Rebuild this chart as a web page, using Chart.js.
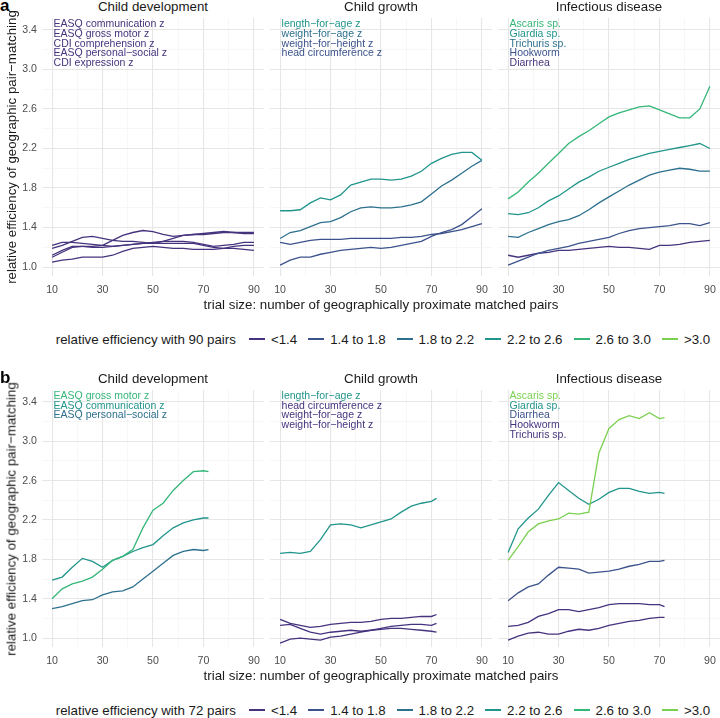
<!DOCTYPE html>
<html>
<head>
<meta charset="utf-8">
<script src="https://cdn.jsdelivr.net/npm/chart.js@4.4.0/dist/chart.umd.min.js"></script>
<style>
body { margin: 0; width: 720px; height: 718px; overflow: hidden; background: #fff; position: relative;
       font-family: "Liberation Sans", Arial, sans-serif; color: #1a1a1a; }
canvas { position: absolute; }
.strip { position: absolute; width: 222px; text-align: center; font-size: 13.3px; line-height: 16px; }
.tag { position: absolute; left: 0; font-weight: bold; font-size: 17px; line-height: 17px; color: #000; }
.ytitle { position: absolute; font-size: 13.3px; white-space: nowrap; transform: translate(-50%, -50%) rotate(-90deg); }
.xtitle { position: absolute; font-size: 13.3px; white-space: nowrap; transform: translate(-50%, -50%); }
.legend { position: absolute; left: 46px; width: 674px; height: 18px; display: flex; justify-content: center;
          align-items: center; font-size: 13.3px; white-space: nowrap; }
.key { display: inline-block; width: 16px; height: 1.5px; margin: 0 6px 0 11px; }
</style>
</head>
<body>
<script>
// x positions (trial size in pairs)
const PAIRS_90 = [10, 14, 18, 22, 26, 30, 34, 38, 42, 46, 50, 54, 58, 62, 66, 70, 74, 78, 82, 86, 90];
const PAIRS_72 = [10, 14, 18, 22, 26, 30, 34, 38, 42, 46, 50, 54, 58, 62, 66, 70, 72];

const X_MAJOR = [10, 30, 50, 70, 90];
const X_MINOR = [20, 40, 60, 80];
const Y_MAJOR = [1.0, 1.4, 1.8, 2.2, 2.6, 3.0, 3.4];
const Y_MINOR = [1.2, 1.6, 2.0, 2.4, 2.8, 3.2];

const FACETS = ['Child development', 'Child growth', 'Infectious disease'];
const LEVELS = ['<1.4', '1.4 to 1.8', '1.8 to 2.2', '2.2 to 2.6', '2.6 to 3.0', '>3.0'];
const COLORS = ['#46337E', '#3B528B', '#2D708E', '#21958B', '#35B779', '#7AD151'];

// ---- panel a: 90 pairs ----
const A_DEV_LABELS = ['EASQ communication z', 'EASQ gross motor z', 'CDI comprehension z', 'EASQ personal\u2212social z', 'CDI expression z'];
const A_DEV_LEVELS = [0, 0, 0, 0, 0];
const A_DEV_COMM = [1.22, 1.25, 1.25, 1.24, 1.23, 1.22, 1.21, 1.22, 1.23, 1.24, 1.24, 1.24, 1.24, 1.24, 1.24, 1.22, 1.20, 1.19, 1.21, 1.22, 1.22];
const A_DEV_GROSS = [1.19, 1.22, 1.26, 1.30, 1.31, 1.29, 1.27, 1.26, 1.26, 1.25, 1.24, 1.26, 1.29, 1.32, 1.33, 1.33, 1.34, 1.35, 1.35, 1.34, 1.34];
const A_DEV_CDICOMP = [1.10, 1.15, 1.20, 1.21, 1.21, 1.22, 1.27, 1.32, 1.35, 1.37, 1.36, 1.33, 1.31, 1.32, 1.33, 1.34, 1.35, 1.36, 1.35, 1.35, 1.35];
const A_DEV_PERS = [1.05, 1.07, 1.08, 1.10, 1.10, 1.10, 1.12, 1.16, 1.19, 1.20, 1.21, 1.20, 1.19, 1.19, 1.18, 1.18, 1.18, 1.19, 1.19, 1.18, 1.17];
const A_DEV_CDIEXPR = [1.12, 1.17, 1.21, 1.21, 1.20, 1.20, 1.21, 1.22, 1.23, 1.24, 1.25, 1.26, 1.26, 1.26, 1.25, 1.23, 1.21, 1.22, 1.23, 1.25, 1.25];

const A_GRO_LABELS = ['length\u2212for\u2212age z', 'weight\u2212for\u2212age z', 'weight\u2212for\u2212height z', 'head circumference z'];
const A_GRO_LEVELS = [3, 2, 1, 1];
const A_GRO_LAZ = [1.57, 1.57, 1.58, 1.65, 1.70, 1.68, 1.73, 1.83, 1.86, 1.89, 1.89, 1.88, 1.89, 1.92, 1.97, 2.05, 2.10, 2.14, 2.16, 2.16, 2.08];
const A_GRO_WAZ = [1.29, 1.35, 1.37, 1.41, 1.45, 1.46, 1.50, 1.56, 1.60, 1.61, 1.60, 1.60, 1.61, 1.63, 1.66, 1.74, 1.82, 1.88, 1.95, 2.02, 2.08];
const A_GRO_WHZ = [1.02, 1.07, 1.10, 1.10, 1.13, 1.15, 1.17, 1.18, 1.19, 1.20, 1.19, 1.20, 1.22, 1.24, 1.26, 1.31, 1.35, 1.38, 1.43, 1.51, 1.59];
const A_GRO_HCZ = [1.25, 1.23, 1.25, 1.27, 1.28, 1.28, 1.28, 1.29, 1.29, 1.29, 1.29, 1.29, 1.30, 1.30, 1.31, 1.33, 1.34, 1.36, 1.38, 1.41, 1.44];

const A_INF_LABELS = ['Ascaris sp.', 'Giardia sp.', 'Trichuris sp.', 'Hookworm', 'Diarrhea'];
const A_INF_LEVELS = [4, 3, 2, 1, 0];
const A_INF_ASC = [1.69, 1.76, 1.86, 1.95, 2.05, 2.15, 2.25, 2.32, 2.38, 2.45, 2.52, 2.56, 2.59, 2.62, 2.63, 2.59, 2.55, 2.51, 2.51, 2.60, 2.83];
const A_INF_GIA = [1.54, 1.53, 1.55, 1.60, 1.67, 1.72, 1.79, 1.86, 1.91, 1.97, 2.01, 2.05, 2.09, 2.12, 2.15, 2.17, 2.19, 2.21, 2.23, 2.25, 2.20];
const A_INF_TRI = [1.31, 1.30, 1.35, 1.39, 1.43, 1.46, 1.48, 1.52, 1.58, 1.65, 1.71, 1.77, 1.83, 1.88, 1.93, 1.96, 1.98, 2.00, 1.99, 1.97, 1.97];
const A_INF_HOOK = [1.02, 1.06, 1.10, 1.14, 1.17, 1.19, 1.21, 1.24, 1.26, 1.28, 1.30, 1.34, 1.37, 1.39, 1.40, 1.41, 1.42, 1.44, 1.44, 1.42, 1.45];
const A_INF_DIAR = [1.12, 1.10, 1.12, 1.14, 1.15, 1.17, 1.17, 1.18, 1.19, 1.20, 1.21, 1.20, 1.20, 1.19, 1.18, 1.22, 1.22, 1.23, 1.25, 1.26, 1.27];

// ---- panel b: 72 pairs ----
const B_DEV_LABELS = ['EASQ gross motor z', 'EASQ communication z', 'EASQ personal\u2212social z'];
const B_DEV_LEVELS = [4, 3, 2];
const B_DEV_GROSS = [1.40, 1.50, 1.55, 1.58, 1.62, 1.70, 1.79, 1.83, 1.90, 2.12, 2.30, 2.37, 2.50, 2.60, 2.69, 2.70, 2.69];
const B_DEV_COMM = [1.59, 1.62, 1.72, 1.81, 1.78, 1.72, 1.79, 1.83, 1.88, 1.92, 1.95, 2.04, 2.12, 2.17, 2.20, 2.22, 2.22];
const B_DEV_PERS = [1.30, 1.32, 1.35, 1.38, 1.39, 1.44, 1.47, 1.48, 1.52, 1.60, 1.68, 1.76, 1.84, 1.88, 1.90, 1.89, 1.90];

const B_GRO_LABELS = ['length\u2212for\u2212age z', 'head circumference z', 'weight\u2212for\u2212age z', 'weight\u2212for\u2212height z'];
const B_GRO_LEVELS = [3, 0, 0, 0];
const B_GRO_LAZ = [1.86, 1.87, 1.86, 1.88, 2.00, 2.15, 2.16, 2.15, 2.12, 2.15, 2.18, 2.21, 2.28, 2.34, 2.37, 2.39, 2.42];
const B_GRO_HCZ = [1.19, 1.15, 1.13, 1.11, 1.12, 1.14, 1.15, 1.16, 1.16, 1.17, 1.19, 1.20, 1.20, 1.21, 1.22, 1.22, 1.24];
const B_GRO_WAZ = [1.13, 1.14, 1.10, 1.06, 1.04, 1.06, 1.07, 1.08, 1.07, 1.08, 1.10, 1.12, 1.13, 1.14, 1.14, 1.13, 1.15];
const B_GRO_WHZ = [0.95, 0.99, 1.00, 0.99, 0.98, 1.01, 1.02, 1.04, 1.06, 1.08, 1.09, 1.10, 1.10, 1.09, 1.08, 1.07, 1.06];

const B_INF_LABELS = ['Ascaris sp.', 'Giardia sp.', 'Diarrhea', 'Hookworm', 'Trichuris sp.'];
const B_INF_LEVELS = [5, 3, 1, 0, 0];
const B_INF_ASC = [1.79, 1.93, 2.08, 2.16, 2.19, 2.21, 2.27, 2.26, 2.28, 2.88, 3.13, 3.22, 3.26, 3.23, 3.29, 3.23, 3.24];
const B_INF_GIA = [1.87, 2.11, 2.22, 2.31, 2.45, 2.58, 2.50, 2.42, 2.36, 2.41, 2.48, 2.52, 2.52, 2.49, 2.47, 2.48, 2.47];
const B_INF_DIAR = [1.38, 1.46, 1.52, 1.55, 1.64, 1.72, 1.71, 1.70, 1.66, 1.67, 1.68, 1.70, 1.73, 1.75, 1.78, 1.78, 1.79];
const B_INF_HOOK = [1.12, 1.13, 1.16, 1.22, 1.25, 1.29, 1.29, 1.27, 1.29, 1.31, 1.34, 1.35, 1.35, 1.35, 1.34, 1.34, 1.32];
const B_INF_TRI = [0.98, 1.02, 1.05, 1.06, 1.04, 1.04, 1.07, 1.09, 1.08, 1.10, 1.13, 1.15, 1.17, 1.18, 1.20, 1.21, 1.21];

const FONT = '"Liberation Sans", Arial, sans-serif';
const PLOT_LEFT = [42, 270, 498];
const PLOT_W = 222;
const PAD_TOP = 14;
const X_AXIS_H = 24;

// text labels stacked at the top-left of each facet
const annotPlugin = {
    id: 'annot',
    afterDatasetsDraw(chart, args, opts) {
        const ctx = chart.ctx;
        const xs = chart.scales.x, ys = chart.scales.y;
        ctx.save();
        ctx.font = '10.5px ' + FONT;
        ctx.textBaseline = 'middle';
        ctx.textAlign = 'left';
        opts.labels.forEach((txt, i) => {
            ctx.fillStyle = COLORS[opts.levels[i]];
            ctx.fillText(txt, xs.getPixelForValue(10) + 1.5, ys.getPixelForValue(3.46 - 0.1 * i));
        });
        ctx.restore();
    }
};

function isMajorX(v) { return X_MAJOR.includes(v); }
function isMajorY(v) { return Y_MAJOR.some(m => Math.abs(m - v) < 1e-6); }

function makeFacet(col, plotTop, plotH, pairs, seriesList, labels, levels) {
    const hasY = col === 0;
    const yw = hasY ? 34 : 0;
    const canvas = document.createElement('canvas');
    const w = 8 + yw + PLOT_W + 8;
    const h = PAD_TOP + plotH + X_AXIS_H;
    canvas.width = w; canvas.height = h;
    canvas.style.left = (PLOT_LEFT[col] - 8 - yw) + 'px';
    canvas.style.top = (plotTop - PAD_TOP) + 'px';
    document.body.appendChild(canvas);

    new Chart(canvas, {
        type: 'line',
        data: {
            datasets: seriesList.map((vals, i) => ({
                data: vals.map((v, j) => ({ x: pairs[j], y: v })),
                borderColor: COLORS[levels[i]],
                borderWidth: 1.3,
                pointRadius: 0,
                tension: 0,
                fill: false
            }))
        },
        options: {
            responsive: false,
            animation: false,
            devicePixelRatio: 1,
            layout: { padding: { left: 8, right: 8, top: PAD_TOP, bottom: 0 } },
            plugins: {
                legend: { display: false },
                tooltip: { enabled: false },
                annot: { labels: labels, levels: levels }
            },
            scales: {
                x: {
                    type: 'linear', min: 6, max: 94,
                    afterBuildTicks: s => { s.ticks = X_MAJOR.concat(X_MINOR).sort((a, b) => a - b).map(v => ({ value: v })); },
                    afterFit: s => { s.height = X_AXIS_H; },
                    ticks: {
                        autoSkip: false, maxRotation: 0, padding: 8, color: '#4d4d4d',
                        font: { size: 10.6, family: FONT },
                        callback: v => isMajorX(v) ? String(v) : ''
                    },
                    grid: {
                        drawTicks: false,
                        color: c => isMajorX(c.tick.value) ? '#e6e6e6' : '#f1f1f1',
                        lineWidth: c => isMajorX(c.tick.value) ? 1.1 : 0.6
                    },
                    border: { display: false }
                },
                y: {
                    type: 'linear', min: 0.91, max: 3.52,
                    afterBuildTicks: s => { s.ticks = Y_MAJOR.concat(Y_MINOR).sort((a, b) => a - b).map(v => ({ value: v })); },
                    afterFit: s => { s.width = yw; },
                    ticks: {
                        display: hasY, autoSkip: false, padding: 5, color: '#4d4d4d',
                        font: { size: 10.6, family: FONT },
                        callback: v => isMajorY(v) ? v.toFixed(1) : ''
                    },
                    grid: {
                        drawTicks: false,
                        color: c => isMajorY(c.tick.value) ? '#e6e6e6' : '#f1f1f1',
                        lineWidth: c => isMajorY(c.tick.value) ? 1.1 : 0.6
                    },
                    border: { display: false }
                }
            }
        },
        plugins: [annotPlugin]
    });
}

function addDiv(cls, html, css) {
    const d = document.createElement('div');
    d.className = cls;
    d.innerHTML = html;
    Object.assign(d.style, css);
    document.body.appendChild(d);
    return d;
}

function addPanel(tag, plotTop, plotH, pairs, facets, nPairs) {
    addDiv('tag', tag, { top: (plotTop - 21) + 'px' });
    FACETS.forEach((name, i) => {
        addDiv('strip', name, { left: PLOT_LEFT[i] + 'px', top: (plotTop - 19) + 'px' });
        makeFacet(i, plotTop, plotH, pairs, facets[i].series, facets[i].labels, facets[i].levels);
    });
    addDiv('ytitle', 'relative efficiency of geographic pair\u2212matching',
        { left: '11px', top: (plotTop + plotH / 2) + 'px' });
    addDiv('xtitle', 'trial size: number of geographically proximate matched pairs',
        { left: '381px', top: (plotTop + plotH + 28) + 'px' });
    let html = '<span>relative efficiency with ' + nPairs + ' pairs</span>';
    LEVELS.forEach((lv, i) => {
        html += '<span class="key" style="background:' + COLORS[i] + (i === 0 ? ';margin-left:13px' : '') + '"></span>' +
                '<span>' + lv.replace('<', '&lt;').replace('>', '&gt;') + '</span>';
    });
    addDiv('legend', html, { top: (plotTop + plotH + 54) + 'px' });
}

addPanel('a', 18, 258, PAIRS_90, [
    { series: [A_DEV_COMM, A_DEV_GROSS, A_DEV_CDICOMP, A_DEV_PERS, A_DEV_CDIEXPR], labels: A_DEV_LABELS, levels: A_DEV_LEVELS },
    { series: [A_GRO_LAZ, A_GRO_WAZ, A_GRO_WHZ, A_GRO_HCZ], labels: A_GRO_LABELS, levels: A_GRO_LEVELS },
    { series: [A_INF_ASC, A_INF_GIA, A_INF_TRI, A_INF_HOOK, A_INF_DIAR], labels: A_INF_LABELS, levels: A_INF_LEVELS }
], 90);

addPanel('b', 390, 257, PAIRS_72, [
    { series: [B_DEV_GROSS, B_DEV_COMM, B_DEV_PERS], labels: B_DEV_LABELS, levels: B_DEV_LEVELS },
    { series: [B_GRO_LAZ, B_GRO_HCZ, B_GRO_WAZ, B_GRO_WHZ], labels: B_GRO_LABELS, levels: B_GRO_LEVELS },
    { series: [B_INF_ASC, B_INF_GIA, B_INF_DIAR, B_INF_HOOK, B_INF_TRI], labels: B_INF_LABELS, levels: B_INF_LEVELS }
], 72);
</script>
</body>
</html>
